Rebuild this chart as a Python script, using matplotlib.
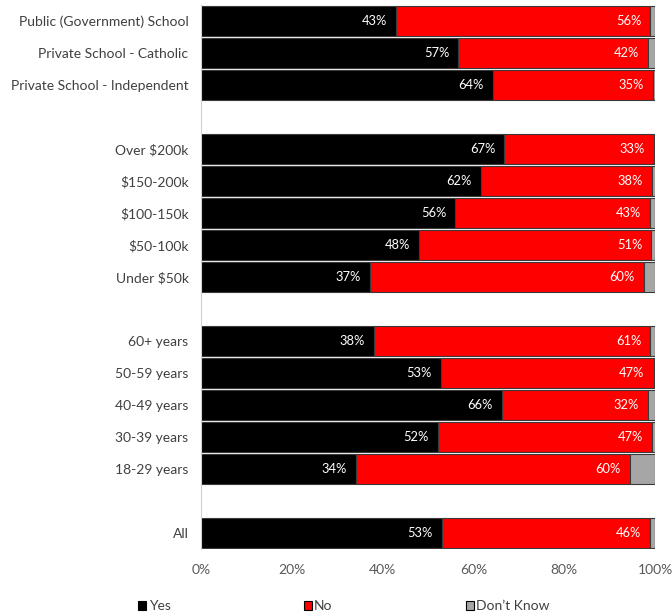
import matplotlib
matplotlib.use("Agg")
import matplotlib.pyplot as plt
from matplotlib.patches import Patch
import numpy as np

plt.rcParams['font.family'] = ['Lato', 'DejaVu Sans']

# Rows from top to bottom; empty strings are spacer rows between groups
categories = [
    "Public (Government) School", "Private School - Catholic", "Private School - Independent",
    "",
    "Over $200k", "$150-200k", "$100-150k", "$50-100k", "Under $50k",
    "",
    "60+ years", "50-59 years", "40-49 years", "30-39 years", "18-29 years",
    "",
    "All",
]
yes = [43, 57, 64, None, 67, 62, 56, 48, 37, None, 38, 53, 66, 52, 34, None, 53]
no = [56, 42, 35, None, 33, 38, 43, 51, 60, None, 61, 47, 32, 47, 60, None, 46]
dont_know = [1, 1.5, 0.5, None, 0.3, 0.7, 1, 0.8, 2.5, None, 1, 0.3, 1.5, 0.6, 5.5, None, 1]

series_names = ["Yes", "No", "Don\u2019t Know"]
colors = ["#000000", "#ff0000", "#a6a6a6"]

fig = plt.figure(figsize=(6.72, 6.16), dpi=100)
ax = fig.add_axes([201 / 672, 1 - 549 / 616, 454 / 672, 544 / 616])

n = len(categories)
ypos = np.arange(n)
edge = "#3a3a3a"
bar_h = 0.92

for i in range(n):
    if yes[i] is None:
        continue
    vals = [yes[i], no[i], dont_know[i]]
    total = sum(vals)
    shares = [v / total * 100 for v in vals]
    left = 0
    for j, s in enumerate(shares):
        ax.barh(ypos[i], s, left=left, height=bar_h, color=colors[j],
                edgecolor=edge, linewidth=0.8)
        if j < 2:
            ax.text(left + s - 2.0, ypos[i], f"{vals[j]}%", ha="right", va="center",
                    color="white", fontsize=9.3)
        left += s

ax.set_ylim(n - 0.5, -0.5)
ax.set_xlim(0, 100)
ax.set_yticks(ypos)
ax.set_yticklabels(categories, fontsize=10, color="#404040")
ax.set_xticks([0, 20, 40, 60, 80, 100])
ax.set_xticklabels([f"{t}%" for t in [0, 20, 40, 60, 80, 100]], fontsize=10, color="#595959")
ax.tick_params(axis="both", length=0)
ax.tick_params(axis="y", pad=9)
ax.tick_params(axis="x", pad=11)
for side in ["top", "right", "bottom"]:
    ax.spines[side].set_visible(False)
ax.spines["left"].set_color("#d0d0d0")
ax.spines["left"].set_linewidth(0.8)

handles = [Patch(facecolor=c, edgecolor="#000000", linewidth=0.8) for c in colors]
leg = fig.legend(handles, series_names, loc="center", bbox_to_anchor=(344 / 672, 1 - 606.5 / 616),
                 ncol=3, frameon=False, fontsize=10, handlelength=0.6, handleheight=0.6,
                 handletextpad=0.15, columnspacing=9.6, labelcolor="#404040")

fig.savefig("out.png", dpi=100)
